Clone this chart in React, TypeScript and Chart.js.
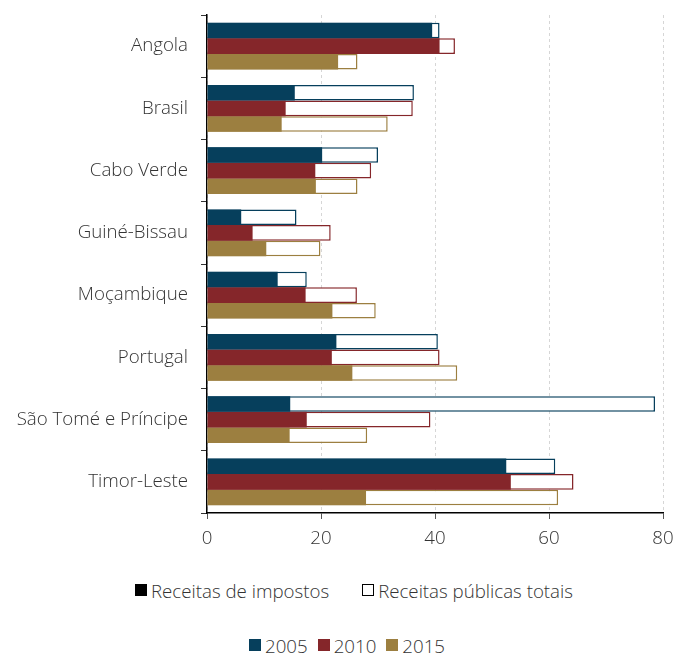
import { useEffect, useRef } from "react";
import { Chart, registerables } from "chart.js";

Chart.register(...registerables);

// países e valores (% do PIB)
const countries = [
  "Angola",
  "Brasil",
  "Cabo Verde",
  "Guiné-Bissau",
  "Moçambique",
  "Portugal",
  "São Tomé e Príncipe",
  "Timor-Leste",
];
const years = ["2005", "2010", "2015"];
const yearColors = ["#063f5c", "#85262a", "#9c7f40"];

// receitas de impostos
const tax2005 = [39.5, 15.4, 20.2, 6.0, 12.4, 22.7, 14.6, 52.5];
const tax2010 = [40.8, 13.8, 19.0, 8.0, 17.3, 21.9, 17.5, 53.3];
const tax2015 = [23.0, 13.1, 19.1, 10.4, 22.0, 25.5, 14.5, 27.9];

// receitas públicas totais
const total2005 = [40.8, 36.3, 30.0, 15.7, 17.5, 40.5, 78.6, 61.1];
const total2010 = [43.5, 36.1, 28.8, 21.7, 26.3, 40.8, 39.2, 64.3];
const total2015 = [26.4, 31.7, 26.4, 19.9, 29.6, 43.9, 28.1, 61.6];

const xTicks = [0, 20, 40, 60, 80];
const legendTypes = ["Receitas de impostos", "Receitas públicas totais"];

const FONT = "'Open Sans', sans-serif";
const TEXT = "#333333";
const SIZE = 18.7;

export default function App() {
  const chartRef = useRef<HTMLCanvasElement>(null);
  const chartInstance = useRef<Chart | null>(null);

  useEffect(() => {
    if (!chartRef.current) return;
    if (chartInstance.current) chartInstance.current.destroy();

    const taxes = [tax2005, tax2010, tax2015];
    const totals = [total2005, total2010, total2015];

    const taxSets = years.map((y, i) => ({
      label: legendTypes[0] + " " + y,
      data: taxes[i],
      stack: y,
      order: 0,
      backgroundColor: yearColors[i],
      borderWidth: 0,
    }));
    const totalSets = years.map((y, i) => ({
      label: legendTypes[1] + " " + y,
      data: totals[i],
      stack: y,
      order: 1,
      backgroundColor: "#ffffff",
      borderColor: yearColors[i],
      borderWidth: 1.5,
    }));

    const ctx = chartRef.current.getContext("2d");
    if (!ctx) return;
    chartInstance.current = new Chart(ctx, {
      type: "bar",
      data: {
        labels: countries,
        datasets: [...taxSets, ...totalSets],
      },
      options: {
        indexAxis: "y",
        animation: false,
        responsive: true,
        maintainAspectRatio: false,
        categoryPercentage: 0.755,
        barPercentage: 1,
        layout: { padding: { left: 0, right: 13, top: 15, bottom: 0 } },
        plugins: {
          legend: { display: false },
          tooltip: { enabled: false },
        },
        scales: {
          x: {
            stacked: false,
            min: xTicks[0],
            max: xTicks[xTicks.length - 1],
            afterBuildTicks: (scale: any) => {
              scale.ticks = xTicks.map((v) => ({ value: v }));
            },
            afterFit: (scale: any) => {
              scale.height = 47;
              scale.paddingLeft = 0;
              scale.paddingRight = 0;
            },
            grid: {
              color: "#d6d6d6",
              tickColor: "#555",
              tickLength: 6,
              lineWidth: 1,
            },
            border: { color: "#000", width: 1.5, dash: [3, 3] },
            ticks: {
              font: { family: FONT, size: SIZE, weight: 300 },
              color: TEXT,
              padding: 8,
            },
          },
          y: {
            stacked: true,
            afterFit: (scale: any) => {
              scale.width = 207;
              scale.paddingTop = 0;
              scale.paddingBottom = 0;
            },
            grid: {
              drawOnChartArea: false,
              tickLength: 6,
              color: "#333",
            },
            border: { color: "#000", width: 1.5 },
            ticks: {
              font: { family: FONT, size: SIZE, weight: 300 },
              color: TEXT,
              padding: 13,
            },
          },
        },
      },
    });

    return () => {
      if (chartInstance.current) {
        chartInstance.current.destroy();
        chartInstance.current = null;
      }
    };
  }, []);

  const sq = (color: string, outline = false) => (
    <span
      style={{
        display: "inline-block",
        width: 12,
        height: 12,
        boxSizing: "border-box",
        background: outline ? "#fff" : color,
        border: outline ? "1px solid #000" : "none",
        marginRight: 4,
      }}
    />
  );

  const legendText = {
    fontFamily: FONT,
    fontSize: SIZE,
    fontWeight: 300,
    color: TEXT,
    display: "flex",
    alignItems: "center",
    whiteSpace: "nowrap" as const,
  };

  return (
    <div style={{ position: "absolute", left: 0, top: 0, width: 676, height: 655, background: "#fff" }}>
      <div style={{ position: "absolute", left: 0, top: 0, width: 676, height: 560 }}>
        <canvas ref={chartRef}></canvas>
      </div>
      <div style={{ position: "absolute", left: 135, top: 577, height: 26, ...legendText }}>
        <span style={{ display: "flex", alignItems: "center", marginRight: 33 }}>
          {sq("#000")}
          {legendTypes[0]}
        </span>
        <span style={{ display: "flex", alignItems: "center" }}>
          {sq("#000", true)}
          {legendTypes[1]}
        </span>
      </div>
      <div style={{ position: "absolute", left: 249, top: 632, height: 26, ...legendText }}>
        {years.map((y, i) => (
          <span key={y} style={{ display: "flex", alignItems: "center", marginRight: 10 }}>
            {sq(yearColors[i])}
            {y}
          </span>
        ))}
      </div>
    </div>
  );
}
